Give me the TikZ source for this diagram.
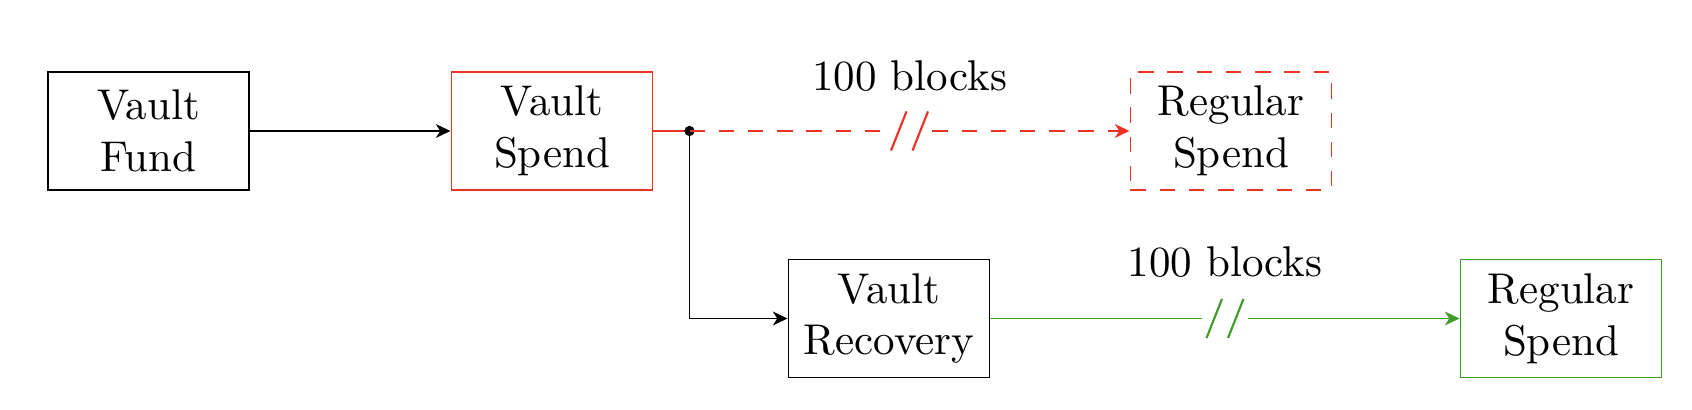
\documentclass[tikz,border=0pt]{standalone}
\usetikzlibrary{arrows.meta,calc}
\definecolor{myred}{RGB}{232,51,38}
\definecolor{mygreen}{RGB}{65,155,40}
\tikzset{
  box/.style={draw, rectangle, align=center, minimum width=46.8pt, minimum height=27.4pt, inner sep=0pt, font=\normalsize},
  tip/.style={-{Stealth[length=3.4pt,width=3.2pt,inset=1pt]}},
  mydash/.style={dash pattern=on 3.6pt off 3.2pt},
  slash/.style={line width=0.5pt},
  lbl/.style={anchor=base, inner sep=0pt}
}
\begin{document}
\begin{tikzpicture}[x=0.2326pt, y=-0.2326pt]
\useasboundingbox (0,0) rectangle (1692,410);
\node[box] (vf) at (148.4,131) {Vault\\Fund};
\node[box, draw=myred] (vs) at (552,131) {Vault\\Spend};
\node[box, draw=myred, mydash] (rs) at (1231,131) {Regular\\Spend};
\node[box] (vr) at (889,318.5) {Vault\\Recovery};
\node[box, draw=mygreen] (gs) at (1561,318.5) {Regular\\Spend};
\coordinate (dot) at (689.5,131);
% black connectors
\draw[tip] (vf) -- (vs);
\draw[myred] (vs.east) -- (dot);
\draw[tip] (dot) |- (vr.west);
\fill (dot) circle (1.2pt);
% red delayed edge
\coordinate (rm) at ($(dot)!0.5!(rs.west)$);
\draw[myred, mydash] (dot) -- ([xshift=-5.3pt]rm);
\draw[myred, mydash, tip] ([xshift=5.3pt]rm) -- (rs.west);
\draw[myred, slash] ([xshift=-4.3pt,yshift=-4.55pt]rm) -- ([xshift=-0.7pt,yshift=4.55pt]rm);
\draw[myred, slash] ([xshift=0.7pt,yshift=-4.55pt]rm) -- ([xshift=4.3pt,yshift=4.55pt]rm);
\node[lbl] (rl) at ([yshift=9.5pt]rm) {100 blocks};
% green delayed edge
\coordinate (gm) at ($(vr.east)!0.5!(gs.west)$);
\draw[mygreen] (vr.east) -- ([xshift=-5.3pt]gm);
\draw[mygreen, tip] ([xshift=5.3pt]gm) -- (gs.west);
\draw[mygreen, slash] ([xshift=-4.3pt,yshift=-4.55pt]gm) -- ([xshift=-0.7pt,yshift=4.55pt]gm);
\draw[mygreen, slash] ([xshift=0.7pt,yshift=-4.55pt]gm) -- ([xshift=4.3pt,yshift=4.55pt]gm);
\node[lbl] (gl) at ([yshift=9.7pt]gm) {100 blocks};
\end{tikzpicture}
\end{document}
